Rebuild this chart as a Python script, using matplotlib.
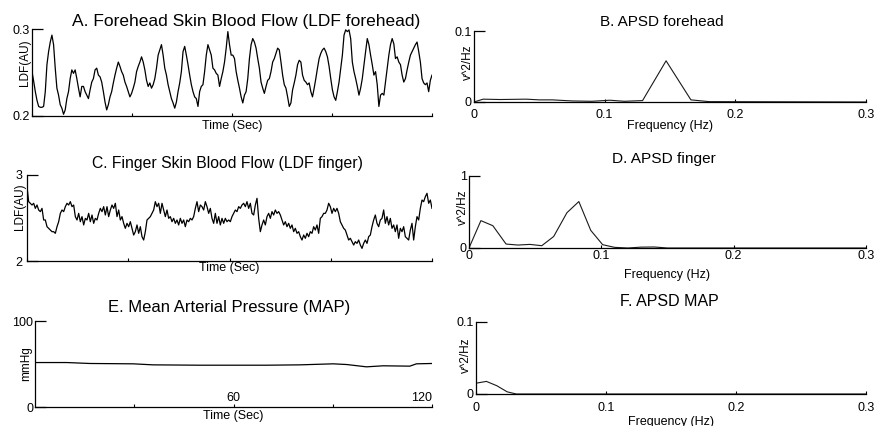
import numpy as np
import matplotlib
matplotlib.use('Agg')
import matplotlib.pyplot as plt

plt.rcParams['font.family'] = ['Liberation Sans', 'DejaVu Sans']

# A. forehead LDF (AU), 0-120 s
ldf_forehead = [
    0.251, 0.240, 0.228, 0.218, 0.211, 0.210, 0.210, 0.211, 0.228, 0.259,
    0.274, 0.285, 0.293, 0.282, 0.255, 0.232, 0.224, 0.213, 0.209, 0.202,
    0.207, 0.220, 0.228, 0.243, 0.253, 0.249, 0.253, 0.243, 0.232, 0.222,
    0.234, 0.234, 0.228, 0.224, 0.220, 0.230, 0.239, 0.243, 0.253, 0.255,
    0.247, 0.245, 0.239, 0.228, 0.216, 0.207, 0.213, 0.222, 0.228, 0.238,
    0.247, 0.255, 0.262, 0.257, 0.251, 0.247, 0.239, 0.234, 0.228, 0.222,
    0.226, 0.232, 0.239, 0.251, 0.257, 0.262, 0.268, 0.262, 0.253, 0.241,
    0.234, 0.238, 0.232, 0.236, 0.243, 0.255, 0.270, 0.276, 0.282, 0.270,
    0.255, 0.247, 0.236, 0.228, 0.220, 0.215, 0.209, 0.216, 0.228, 0.238,
    0.251, 0.274, 0.280, 0.270, 0.259, 0.247, 0.236, 0.228, 0.222, 0.220,
    0.211, 0.228, 0.234, 0.236, 0.251, 0.270, 0.282, 0.276, 0.270, 0.255,
    0.253, 0.249, 0.247, 0.234, 0.243, 0.251, 0.262, 0.278, 0.297, 0.282,
    0.270,
    0.270, 0.266, 0.251, 0.241, 0.232, 0.222, 0.215, 0.224, 0.228, 0.243,
    0.266, 0.282, 0.289, 0.285, 0.278, 0.266, 0.255, 0.239, 0.232, 0.226,
    0.234, 0.241, 0.243, 0.251, 0.262, 0.266, 0.272, 0.278, 0.276, 0.262,
    0.247, 0.236, 0.232, 0.222, 0.211, 0.215, 0.230, 0.238, 0.247, 0.259,
    0.264, 0.262, 0.247, 0.241, 0.239, 0.236, 0.238, 0.228, 0.222, 0.232,
    0.243, 0.255, 0.266, 0.272, 0.276, 0.278, 0.274, 0.268, 0.257, 0.243,
    0.230, 0.222, 0.218, 0.228, 0.239, 0.255, 0.270, 0.293, 0.299, 0.297,
    0.299, 0.289, 0.262, 0.251, 0.243, 0.234, 0.224, 0.232, 0.243, 0.259,
    0.274, 0.289, 0.282, 0.270, 0.259, 0.247, 0.251, 0.236, 0.211, 0.224,
    0.226, 0.224, 0.239, 0.255, 0.270, 0.282, 0.289, 0.283, 0.266, 0.268,
    0.262, 0.259, 0.247, 0.239, 0.243, 0.253, 0.262, 0.270, 0.274, 0.278,
    0.282, 0.285, 0.274, 0.262, 0.243, 0.238, 0.236, 0.238, 0.228, 0.241,
    0.247,
]

# C. finger LDF (AU), 0-120 s
ldf_finger = [
    2.864, 2.690, 2.671, 2.651, 2.671, 2.612, 2.651, 2.593, 2.574, 2.612,
    2.477, 2.477, 2.399, 2.380, 2.360, 2.341, 2.341, 2.322, 2.399, 2.457,
    2.554, 2.593, 2.574, 2.632, 2.671, 2.651, 2.690, 2.632, 2.651, 2.516,
    2.477, 2.554, 2.457, 2.516, 2.419, 2.496, 2.477, 2.554, 2.457, 2.535,
    2.438, 2.496, 2.477, 2.554, 2.612, 2.574, 2.632, 2.535, 2.632, 2.516,
    2.593, 2.651, 2.612, 2.671, 2.516, 2.593, 2.477, 2.516, 2.438, 2.380,
    2.438, 2.399, 2.457, 2.380, 2.302, 2.341, 2.419, 2.322, 2.399, 2.283,
    2.244, 2.341, 2.477, 2.496, 2.516, 2.554, 2.593, 2.690, 2.632, 2.671,
    2.554, 2.671, 2.593, 2.516, 2.593, 2.496, 2.516, 2.457, 2.496, 2.438,
    2.477, 2.419, 2.496, 2.438, 2.477, 2.399, 2.477, 2.457, 2.496, 2.477,
    2.516, 2.612, 2.690, 2.574, 2.651, 2.632, 2.593, 2.690, 2.632, 2.554,
    2.612, 2.496, 2.438, 2.554, 2.438, 2.516, 2.419, 2.496, 2.438, 2.496,
    2.457,
    2.477, 2.457, 2.516, 2.554, 2.593, 2.574, 2.632, 2.612, 2.651, 2.671,
    2.632, 2.690, 2.612, 2.671, 2.554, 2.535, 2.651, 2.729, 2.496, 2.341,
    2.419, 2.477, 2.419, 2.516, 2.554, 2.496, 2.574, 2.535, 2.593, 2.554,
    2.574, 2.535, 2.477, 2.419, 2.457, 2.399, 2.438, 2.380, 2.419, 2.341,
    2.380, 2.322, 2.341, 2.283, 2.244, 2.302, 2.264, 2.322, 2.283, 2.341,
    2.322, 2.399, 2.360, 2.419, 2.322, 2.496, 2.516, 2.554, 2.554, 2.593,
    2.671, 2.632, 2.554, 2.612, 2.574, 2.612, 2.554, 2.457, 2.419, 2.380,
    2.360, 2.302, 2.244, 2.264, 2.225, 2.186, 2.225, 2.205, 2.244, 2.186,
    2.147, 2.205, 2.244, 2.205, 2.283, 2.302, 2.399, 2.477, 2.535, 2.438,
    2.399, 2.477, 2.496, 2.593, 2.438, 2.516, 2.419, 2.496, 2.380, 2.419,
    2.341, 2.419, 2.264, 2.380, 2.341, 2.399, 2.283, 2.264, 2.244, 2.360,
    2.438, 2.244, 2.399, 2.516, 2.477, 2.612, 2.709, 2.690, 2.748, 2.787,
    2.671, 2.709, 2.612,
]

# E. MAP (mmHg)
map_time = [0, 9.6, 16.6, 29.7, 35.7, 49.8, 59.9, 70.0, 80.0, 90.1,
            94.2, 100.2, 105.2, 113.3, 115.3, 120.0]
map_mmhg = [51.7, 51.7, 50.6, 50.2, 49.0, 48.6, 48.6, 48.6, 49.0, 50.2,
            49.4, 46.7, 47.9, 47.5, 50.2, 50.6]

# B. APSD forehead
freq_b = [0, 0.007, 0.02, 0.04, 0.05, 0.06, 0.075, 0.09, 0.104, 0.115,
          0.129, 0.147, 0.166, 0.18, 0.3]
apsd_b = [0, 0.004, 0.0035, 0.004, 0.003, 0.003, 0.0015, 0.001, 0.0025, 0.001,
          0.002, 0.058, 0.003, 0.0005, 0]

# D. APSD finger
freq_d = [0, 0.009, 0.018, 0.028, 0.037, 0.046, 0.055, 0.064, 0.074, 0.083,
          0.092, 0.101, 0.110, 0.120, 0.130, 0.140, 0.150, 0.3]
apsd_d = [0, 0.38, 0.31, 0.055, 0.041, 0.05, 0.032, 0.16, 0.49, 0.645,
          0.245, 0.046, 0.009, 0.0, 0.012, 0.014, 0.0, 0.0]

# F. APSD MAP
freq_f = [0, 0.008, 0.016, 0.024, 0.031, 0.3]
apsd_f = [0.015, 0.0175, 0.0115, 0.003, 0.0, 0.0]

t_forehead = np.linspace(0, 120, len(ldf_forehead))
t_finger = np.linspace(0, 120, len(ldf_finger))

W, H = 886, 426
fig = plt.figure(figsize=(W/100, H/100), dpi=100)


def box(l, r, t, b):
    return [l/W, 1-b/H, (r-l)/W, (b-t)/H]


def style(ax, title, tsize, tpad, tx, ylab, ylab_xy, xlab_top, ylim, yticks, ytl, ypad):
    for s in ['top', 'right']:
        ax.spines[s].set_visible(False)
    for s in ['left', 'bottom']:
        ax.spines[s].set_linewidth(0.9)
    ax.set_title(title, fontsize=tsize, pad=tpad, x=tx)
    ax.set_ylim(*ylim)
    ax.set_yticks(yticks)
    ax.set_yticklabels(ytl)
    ax.tick_params(axis='y', direction='in', length=8, width=0.9, pad=ypad, labelsize=9)
    ax.set_ylabel(ylab, fontsize=8.5)
    ax.yaxis.set_label_coords(*ylab_xy)
    h = ax.get_position().height*H
    ax.xaxis.set_label_coords(0.5, -xlab_top/h)


# A
ax = fig.add_axes(box(32, 432, 29, 116))
ax.plot(t_forehead, ldf_forehead, color='black', lw=0.9)
ax.set_xlim(0, 120)
ax.set_xticks([0, 30, 60, 90, 120])
ax.set_xticklabels([])
ax.tick_params(axis='x', direction='in', length=2)
ax.set_xlabel('Time (Sec)', fontsize=9)
style(ax, 'A. Forehead Skin Blood Flow (LDF forehead)', 12.5, 1.7, 0.535,
      'LDF(AU)', (-0.003, 0.61), 4.5, (0.2, 0.3), [0.2, 0.3], ['0.2', '0.3'], 1.5)

# C
ax = fig.add_axes(box(27, 432, 175, 261))
ax.plot(t_finger, ldf_finger, color='black', lw=0.9)
ax.set_xlim(0, 120)
ax.set_xticks([0, 30, 60, 90, 120])
ax.set_xticklabels([])
ax.tick_params(axis='x', direction='in', length=2)
ax.set_xlabel('Time (Sec)', fontsize=9)
style(ax, 'C. Finger Skin Blood Flow (LDF finger)', 11.3, 4.8, 0.494,
      'LDF(AU)', (-0.003, 0.63), 0.5, (2, 3), [2, 3], ['2', '3'], 3.6)

# E
ax = fig.add_axes(box(35, 432, 321, 407))
ax.plot(map_time, map_mmhg, color='black', lw=0.9)
ax.set_xlim(0, 120)
ax.set_xticks([30, 60, 90, 120])
ax.set_xticklabels(['', '60', '', '120'])
ax.get_xticklabels()[3].set_horizontalalignment('right')
ax.tick_params(axis='x', direction='in', length=2, pad=-10.6, labelsize=9)
ax.set_xlabel('Time (Sec)', fontsize=9)
style(ax, 'E. Mean Arterial Pressure (MAP)', 12, 6.7, 0.489,
      'mmHg', (-0.007, 0.5), 3, (0, 100), [0, 100], ['0', '100'], 1.2)

# B, D, F spectra
spectra = [
    (box(474, 866, 31, 102), freq_b, apsd_b, 'B. APSD forehead', 11, 3.6, 0.48,
     (0, 0.1), ['0', '0.1'], 5, 18.5, (0.0, 0.56)),
    (box(469, 866, 176, 248), freq_d, apsd_d, 'D. APSD finger', 11.1, 9, 0.491,
     (0, 1), ['0', '1'], 1.2, 21, (0.0, 0.57)),
    (box(476, 866, 322, 394), freq_f, apsd_f, 'F. APSD MAP', 11.5, 11.5, 0.495,
     (0, 0.1), ['0', '0.1'], 6, 21.5, (-0.01, 0.54)),
]
for pos, f, p, title, tsize, tpad, tx, ylim, ytl, xpad, xlab_top, ylab_xy in spectra:
    ax = fig.add_axes(pos)
    ax.plot(f, p, color='#1a1a1a', lw=0.8)
    ax.set_xlim(0, 0.3)
    ax.set_xticks([0, 0.1, 0.2, 0.3])
    ax.set_xticklabels(['0', '0.1', '0.2', '0.3'])
    ax.tick_params(axis='x', direction='in', length=2, pad=xpad, labelsize=9)
    ax.set_xlabel('Frequency (Hz)', fontsize=9)
    style(ax, title, tsize, tpad, tx, 'v^2/Hz', ylab_xy, xlab_top, ylim, list(ylim), ytl, 1.5)

fig.savefig('out.png', dpi=100)
